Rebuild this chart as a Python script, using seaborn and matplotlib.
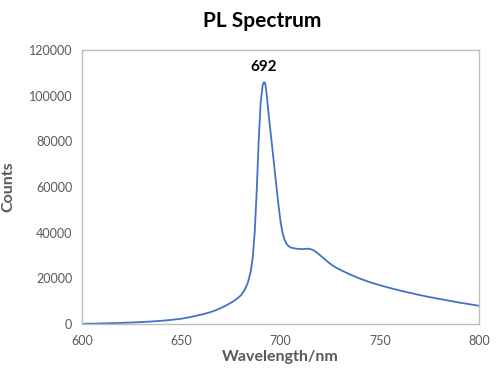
import matplotlib
matplotlib.use("Agg")
import matplotlib.pyplot as plt
import seaborn as sns
import pandas as pd

# spectrum
wavelength = [600, 605, 610, 615, 620, 625, 630, 635, 640, 645, 650, 655, 658, 661,
              664, 667, 670, 673, 676, 678, 680, 682, 683.5, 685, 686, 687, 688,
              689, 690, 691, 691.7, 692.3, 693, 694, 695, 696, 697, 698, 699,
              700, 701, 702, 703, 704, 705, 706, 708, 710, 712, 714, 716, 718,
              720, 722, 724, 726, 728, 730, 735, 740, 745, 750, 755, 760, 765,
              770, 775, 780, 785, 790, 795, 800]
counts = [100, 150, 250, 350, 500, 650, 850, 1100, 1400, 1800, 2300, 3100, 3700, 4300,
          5000, 5900, 7000, 8300, 9800, 11000, 12500, 15000, 18000, 23000, 29000,
          40000, 58000, 80000, 97000, 104500, 106000, 105500, 101000, 92000, 84000,
          76000, 68000, 60000, 52000, 45000, 40000, 37000, 35200, 34200, 33600,
          33300, 33000, 32800, 32900, 33000, 32600, 31500, 30100, 28600, 27100,
          25800, 24700, 23800, 21700, 19900, 18300, 17000, 15800, 14700, 13700,
          12700, 11800, 11000, 10200, 9400, 8700, 8000]
peak_label = "692"

df = pd.DataFrame({"wavelength": wavelength, "counts": counts})

sns.set_style("white")
plt.rcParams["font.family"] = ["Lato", "DejaVu Sans"]

grey = "#595959"
fig = plt.figure(figsize=(5, 3.77), dpi=100)
ax = fig.add_axes([0.164, 0.1406, 0.794, 0.7264])

sns.lineplot(data=df, x="wavelength", y="counts", ax=ax, estimator=None,
             sort=False, color="#4472C4", linewidth=1.3)

ax.set_xlim(600, 800)
ax.set_ylim(0, 120000)
ax.set_xticks(range(600, 801, 50))
ax.set_yticks(range(0, 120001, 20000))
for s in ax.spines.values():
    s.set_color("#BFBFBF")
    s.set_linewidth(1.0)
ax.tick_params(axis="x", direction="in", length=3, color="#BFBFBF",
               labelsize=9, labelcolor=grey, pad=8)
ax.tick_params(axis="y", direction="out", length=4, color="#BFBFBF",
               labelsize=9, labelcolor=grey, pad=3)
ax.set_xlabel("Wavelength/nm", fontsize=11.5, fontweight="bold", color=grey, labelpad=2)
ax.set_ylabel("Counts", fontsize=11.5, fontweight="bold", color=grey, labelpad=10)

i = counts.index(max(counts))
ax.annotate(peak_label, (wavelength[i], counts[i]), xytext=(0, 6),
            textcoords="offset points", ha="center", va="bottom",
            fontsize=11, fontweight="bold", color="black")

fig.text(0.524, 0.945, "PL Spectrum", ha="center", va="center",
         fontsize=15, fontweight="bold", color="black")

fig.savefig("out.png", dpi=100)
